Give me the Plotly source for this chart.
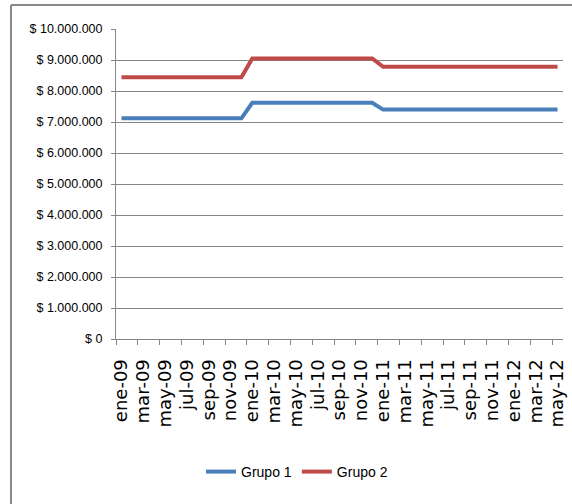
import plotly.graph_objects as go

months = ["ene", "feb", "mar", "abr", "may", "jun", "jul", "ago", "sep", "oct", "nov", "dic"]
years = ["09", "10", "11", "12"]
categories = [f"{m}-{y}" for y in years for m in months][:41]  # ene-09 .. may-12

grupo1 = [
    7120000, 7120000, 7120000, 7120000, 7120000, 7120000,
    7120000, 7120000, 7120000, 7120000, 7120000, 7120000,
    7620000, 7620000, 7620000, 7620000, 7620000, 7620000,
    7620000, 7620000, 7620000, 7620000, 7620000, 7620000,
    7400000, 7400000, 7400000, 7400000, 7400000, 7400000,
    7400000, 7400000, 7400000, 7400000, 7400000, 7400000,
    7400000, 7400000, 7400000, 7400000, 7400000,
]
grupo2 = [
    8440000, 8440000, 8440000, 8440000, 8440000, 8440000,
    8440000, 8440000, 8440000, 8440000, 8440000, 8440000,
    9050000, 9050000, 9050000, 9050000, 9050000, 9050000,
    9050000, 9050000, 9050000, 9050000, 9050000, 9050000,
    8780000, 8780000, 8780000, 8780000, 8780000, 8780000,
    8780000, 8780000, 8780000, 8780000, 8780000, 8780000,
    8780000, 8780000, 8780000, 8780000, 8780000,
]
ytick_vals = [0, 1000000, 2000000, 3000000, 4000000, 5000000,
              6000000, 7000000, 8000000, 9000000, 10000000]
ytick_text = ["$ 0", "$ 1.000.000", "$ 2.000.000", "$ 3.000.000", "$ 4.000.000",
              "$ 5.000.000", "$ 6.000.000", "$ 7.000.000", "$ 8.000.000",
              "$ 9.000.000", "$ 10.000.000"]

sans = "Liberation Sans, Arial, sans-serif"

fig = go.Figure()
fig.add_trace(go.Scatter(x=categories, y=grupo1, mode="lines", name="Grupo 1",
                         line=dict(color="#4A7EBB", width=4)))
fig.add_trace(go.Scatter(x=categories, y=grupo2, mode="lines", name="Grupo 2",
                         line=dict(color="#BE4B48", width=4)))

bx = (11 - 116) / 447
by = (339 - 5) / 310
fig.update_layout(
    width=572, height=504,
    margin=dict(l=116, r=9, t=29, b=165, autoexpand=False),
    paper_bgcolor="white", plot_bgcolor="white",
    showlegend=True,
    legend=dict(orientation="h", x=0.405, xanchor="center", y=-0.429, yanchor="middle",
                font=dict(family=sans, size=14, color="#000000"),
                itemwidth=30, tracegroupgap=0),
    xaxis=dict(type="category", range=[-0.5, 40.5], tickmode="linear", tick0=0, dtick=2,
               tickson="boundaries", ticks="outside", ticklen=5, tickcolor="#868686",
               showgrid=False, showline=True, linecolor="#868686", linewidth=1,
               tickangle=-90, automargin=False, ticklabelstandoff=12,
               tickfont=dict(family="DejaVu Sans, sans-serif", size=18, color="#000000")),
    yaxis=dict(range=[0, 10000000], tickvals=ytick_vals, ticktext=ytick_text,
               ticks="outside", ticklen=4, tickcolor="#868686",
               showgrid=True, gridcolor="#868686", gridwidth=1,
               showline=True, linecolor="#868686", linewidth=1, zeroline=False,
               automargin=False, ticklabelstandoff=6,
               tickfont=dict(family=sans, size=12.5, color="#000000")),
    shapes=[
        dict(type="line", xref="paper", yref="paper", x0=bx, x1=1.1, y0=by, y1=by,
             line=dict(color="#888888", width=2)),
        dict(type="line", xref="paper", yref="paper", x0=bx, x1=bx, y0=-0.6, y1=by,
             line=dict(color="#888888", width=2)),
    ],
)

fig.write_html("out.html", config={"displayModeBar": False},
               post_script="document.body.style.margin='0';")
